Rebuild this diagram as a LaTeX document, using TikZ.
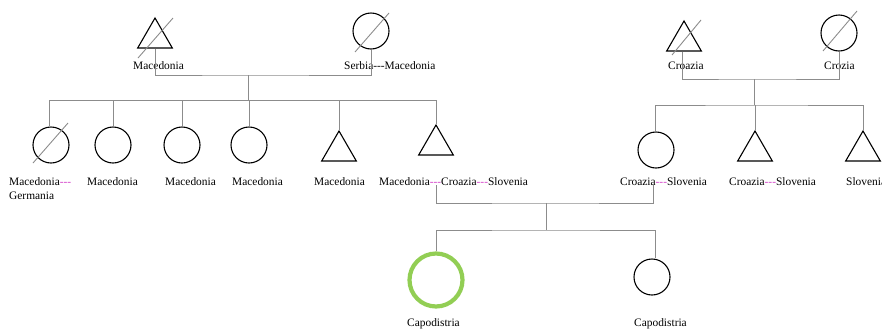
\documentclass[tikz,border=0pt]{standalone}
\usepackage{fontspec}
\setmainfont{Liberation Serif}
\usetikzlibrary{shapes.geometric,calc}
\definecolor{conncol}{RGB}{140,140,140}
\definecolor{dashcol}{RGB}{210,60,200}
\definecolor{probcol}{RGB}{146,206,84}
% three hyphens kept apart so they are not merged into a dash
\newcommand\plainsep{-\kern0pt-\kern0pt-}
\newcommand\magsep{\textcolor{dashcol}{-\kern0pt-\kern0pt-}}
\begin{document}
\begin{tikzpicture}[x=1pt,y=-1pt,
  male/.style={draw=black,line width=1.1pt,regular polygon,regular polygon sides=3,minimum size=40pt,inner sep=0pt},
  female/.style={draw=black,line width=1.1pt,circle,minimum size=36pt,inner sep=0pt},
  conn/.style={draw=conncol,line width=0.9pt},
  dead/.style={draw=conncol,line width=0.9pt},
  lab/.style={anchor=base west,inner sep=0pt,font=\fontsize{11.4}{13}\selectfont,align=left}]
\useasboundingbox (0,0) rectangle (882,330);

% first generation, left family
\node[male]   (gfa) at (155,38) {};
\node[female] (gma) at (371,31) {};
% first generation, right family
\node[male]   (gfb) at (684,41) {};
\node[female] (gmb) at (839,33) {};

% second generation
\node[female] (c1) at (51,145) {};
\node[female] (c2) at (113,145) {};
\node[female] (c3) at (182,145) {};
\node[female] (c4) at (249,145) {};
\node[male]   (c5) at (339,151) {};
\node[male]   (fa) at (436,145) {};
\node[female] (mo) at (656,150) {};
\node[male]   (d2) at (755,151) {};
\node[male]   (d3) at (863,151) {};

% third generation
\node[circle,draw=probcol,line width=4.2pt,minimum size=53pt,inner sep=0pt] (pb) at (436,280) {};
\node[female] (sb) at (652,277) {};

% deceased marks
\draw[dead] ($(gfa)+(-17,20)$) -- ($(gfa)+(18,-20)$);
\draw[dead] ($(gma)+(-16,21)$) -- ($(gma)+(18,-18)$);
\draw[dead] ($(c1)+(-18,18)$) -- ($(c1)+(17,-22)$);
\draw[dead] ($(gfb)+(-12,14)$) -- ($(gfb)+(17,-21)$);
\draw[dead] ($(gmb)+(-16,18)$) -- ($(gmb)+(18,-22)$);

% labels
\node[lab] (lgfa) at (133,69) {Macedonia};
\node[lab] (lgma) at (344,69) {Serbia\plainsep Macedonia};
\node[lab] (lgfb) at (668,69) {Croazia};
\node[lab] (lgmb) at (824,69) {Crozia};
\node[lab] (lc1) at (9,185) {Macedonia\magsep};
\node[lab] (lc1b) at (9,199) {Germania};
\node[lab] (lc2) at (87,185) {Macedonia};
\node[lab] (lc3) at (165,185) {Macedonia};
\node[lab] (lc4) at (232,185) {Macedonia};
\node[lab] (lc5) at (314,185) {Macedonia};
\node[lab] (lfa) at (379,185) {Macedonia\magsep Croazia\magsep Slovenia};
\node[lab] (lmo) at (620,185) {Croazia\magsep Slovenia};
\node[lab] (ld2) at (729,185) {Croazia\magsep Slovenia};
\node[lab] (ld3) at (846,185) {Slovenia};
\node[lab] (lpb) at (407,326) {Capodistria};
\node[lab] (lsb) at (634,326) {Capodistria};

% junction points
\coordinate (ma) at (248,75);
\coordinate (ba) at (248,100);
\coordinate (mb) at (754,79);
\coordinate (bb) at (754,105);
\coordinate (fo) at (436,185);
\coordinate (mf) at (653,185);
\coordinate (mc) at (546,203);
\coordinate (bc) at (546,230);

% left family
\draw[conn] (gfa.south) |- (ma) -| (gma.south);
\draw[conn] (ma) -- (ba);
\draw[conn] (c1.north -| 49,0) |- (ba);
\draw[conn] (ba) -| (fa.north);
\foreach \k in {c2,c3,c4,c5}
  \draw[conn] (\k.north) -- (\k.north |- ba);

% right family
\draw[conn] (gfb.south -| 682,0) |- (mb) -| (gmb.south);
\draw[conn] (mb) -- (bb);
\draw[conn] (mo.north -| 655,0) |- (bb) -| (d3.north);
\draw[conn] (d2.north) -- (d2.north |- bb);

% union of the second generation and its children
\draw[conn] (fo) |- (mc) -| (mf);
\draw[conn] (mc) -- (bc);
\draw[conn] (pb.north) |- (bc) -| (sb.north -| 655,0);
\end{tikzpicture}
\end{document}
